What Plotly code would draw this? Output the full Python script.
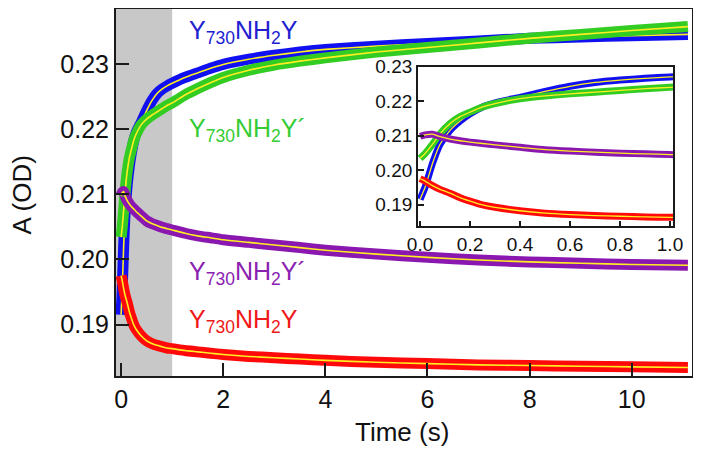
import plotly.graph_objects as go

# ---- data ----
time_s = [0, 0.02, 0.05, 0.08, 0.12, 0.16, 0.2, 0.25, 0.3, 0.4, 0.5, 0.6, 0.7, 0.8,
          0.9, 1.0, 1.25, 1.5, 1.75, 2, 2.5, 3, 3.5, 4, 5, 6, 7, 8, 9, 10, 11.1]

blue_y730 = [0.1915, 0.1950, 0.2020, 0.2075, 0.2115, 0.2142, 0.2163, 0.2183, 0.2195,
             0.2211, 0.2228, 0.2243, 0.2254, 0.2261, 0.2266, 0.2270, 0.2279, 0.2286,
             0.2293, 0.2299, 0.2307, 0.2313, 0.2318, 0.2322, 0.2327, 0.2331, 0.2335,
             0.2339, 0.2341, 0.2343, 0.2345]

green_y730p = [0.2034, 0.2048, 0.2075, 0.2105, 0.2135, 0.2155, 0.2168, 0.2183, 0.2193,
               0.2207, 0.2215, 0.2221, 0.2226, 0.2231, 0.2236, 0.2240, 0.2252, 0.2262,
               0.2271, 0.2279, 0.2290, 0.2298, 0.2304, 0.2309, 0.2318, 0.2325, 0.2332,
               0.2339, 0.2345, 0.2351, 0.2357]

purple_y730p = [0.2098, 0.2102, 0.2104, 0.2097, 0.2090, 0.2085, 0.2081, 0.2077, 0.2073,
                0.2066, 0.2059, 0.2055, 0.2052, 0.2049, 0.2047, 0.2045, 0.2040, 0.2036,
                0.2033, 0.2030, 0.2026, 0.2022, 0.2018, 0.2014, 0.2008, 0.2003, 0.1999,
                0.1996, 0.1994, 0.1992, 0.1991]

red_y730 = [0.1975, 0.1968, 0.1955, 0.1944, 0.1933, 0.1920, 0.1910, 0.1899, 0.1892,
            0.1882, 0.1875, 0.1871, 0.1868, 0.1866, 0.1864, 0.1863, 0.1860, 0.1858,
            0.1856, 0.1854, 0.1851, 0.1849, 0.1847, 0.1845, 0.1842, 0.1840, 0.1838,
            0.1837, 0.1836, 0.1835, 0.1834]

main_xticks = [0, 2, 4, 6, 8, 10]
main_yticks = [0.19, 0.20, 0.21, 0.22, 0.23]
inset_xticks = [0.0, 0.2, 0.4, 0.6, 0.8, 1.0]
inset_yticks = [0.19, 0.20, 0.21, 0.22, 0.23]

labels = ["Y<sub>730</sub>NH<sub>2</sub>Y", "Y<sub>730</sub>NH<sub>2</sub>Y´",
          "Y<sub>730</sub>NH<sub>2</sub>Y´", "Y<sub>730</sub>NH<sub>2</sub>Y"]
label_x = [1.3, 1.3, 1.3, 1.3]
label_y = [0.2349, 0.2198, 0.1979, 0.1905]

# ---- styling ----
series = [
    (blue_y730, "#1010f0", "#2020d0"),
    (green_y730p, "#33cc22", "#33cc33"),
    (purple_y730p, "#8a18b0", "#8a22b0"),
    (red_y730, "#ff0a0a", "#f01818"),
]
FIT = "#ffee22"
FONT = "Liberation Sans, Arial, sans-serif"

fig = go.Figure()

for vals, col, _ in series:
    for xa, ya, w, fw in (("x", "y", 11, 1.6), ("x2", "y2", 7, 1.3)):
        fig.add_trace(go.Scatter(x=time_s, y=vals, mode="lines", xaxis=xa, yaxis=ya,
                                 line=dict(color=col, width=w, shape="spline", smoothing=0.5),
                                 showlegend=False, hoverinfo="skip"))
        fig.add_trace(go.Scatter(x=time_s, y=vals, mode="lines", xaxis=xa, yaxis=ya,
                                 line=dict(color=FIT, width=fw, shape="spline", smoothing=0.5),
                                 showlegend=False, hoverinfo="skip"))

# gray shaded region (0 - 1 s)
fig.add_shape(type="rect", xref="x", yref="y domain", x0=-0.2, x1=1.0, y0=0, y1=1,
              fillcolor="#c8c8c8", line_width=0, layer="below")

for txt, xv, yv, (_, _, tc) in zip(labels, label_x, label_y, series):
    fig.add_annotation(x=xv, y=yv, xref="x", yref="y", text=txt, showarrow=False,
                       xanchor="left", yanchor="middle",
                       font=dict(family=FONT, size=25, color=tc))

# axis titles
fig.add_annotation(x=-0.163, y=0.492, xref="paper", yref="paper", text="A (OD)",
                   textangle=-90, showarrow=False, xanchor="center", yanchor="middle",
                   font=dict(family=FONT, size=26, color="#111111"))
fig.add_annotation(x=0.497, y=-0.152, xref="paper", yref="paper", text="Time (s)",
                   showarrow=False, xanchor="center", yanchor="middle",
                   font=dict(family=FONT, size=26, color="#111111"))

axis_common = dict(showline=True, mirror=True, linecolor="#1a1a1a", showgrid=False,
                   zeroline=False, ticks="inside", tickcolor="#1a1a1a", automargin=False)

# the page body has an 8 px margin, so the figure is 8 px smaller than the window
fig.update_layout(
    width=693, height=448,
    margin=dict(l=108, r=9, t=1, b=80),
    paper_bgcolor="white", plot_bgcolor="white",
    font=dict(family=FONT, color="#111111"),
    xaxis=dict(**axis_common, range=[-0.1, 11.18], tickvals=main_xticks,
               linewidth=2, ticklen=13, tickwidth=2, tickfont=dict(size=25)),
    yaxis=dict(**axis_common, range=[0.1821, 0.2384], tickvals=main_yticks,
               tickformat=".2f", linewidth=2, ticklen=13, tickwidth=2,
               tickfont=dict(size=25)),
    xaxis2=dict(**axis_common, domain=[0.524, 0.967], anchor="y2", range=[-0.009, 1.012],
                tickvals=inset_xticks, tickformat=".1f", linewidth=1.5, ticklen=6,
                tickwidth=1.5, tickfont=dict(size=19)),
    yaxis2=dict(**axis_common, domain=[0.408, 0.843], anchor="x2", range=[0.1837, 0.2300],
                tickvals=inset_yticks, tickformat=".2f", linewidth=1.5, ticklen=6,
                tickwidth=1.5, tickfont=dict(size=19)),
)

fig.write_html("out.html")
